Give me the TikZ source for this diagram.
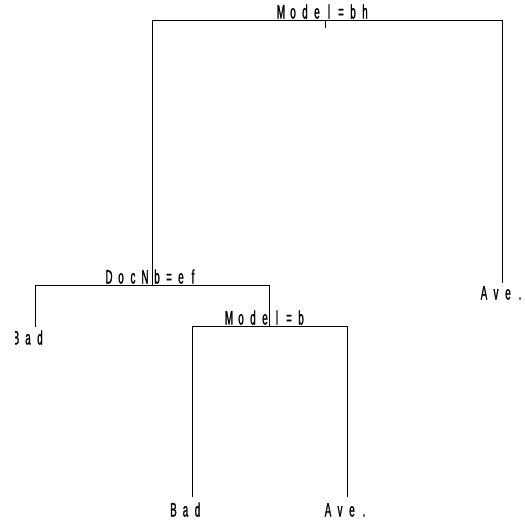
\documentclass[tikz,border=0pt]{standalone}
\usepackage{fontspec}
\newfontfamily\treefont[FakeStretch=0.5, FakeBold=1.2]{Liberation Sans}
% spread the characters of a label at a fixed pitch
\newcommand\spreadchars[1]{\spreadloop#1\relax}
\def\spreadloop#1{\ifx#1\relax\else\makebox[12pt]{#1}\expandafter\spreadloop\fi}
\tikzset{
  branch/.style={line width=0.8pt, black},
  lbl/.style={inner sep=0pt, anchor=base, font=\treefont\fontsize{19.5}{19.5}\selectfont},
}
\begin{document}
\begin{tikzpicture}[x=1pt, y=-1pt]
\useasboundingbox (0,0) rectangle (525,520);
% split points
\coordinate (root) at (325,20);
\coordinate (rootL) at (152,20);
\coordinate (rootR) at (502,20);
\coordinate (doc) at (152,285);
\coordinate (docL) at (35,285);
\coordinate (docR) at (269,285);
\coordinate (mod) at (269,326);
\coordinate (modL) at (192,326);
\coordinate (modR) at (347,326);
% leaf ends
\coordinate (leafA) at (502,283);
\coordinate (leafB) at (35,327);
\coordinate (leafC) at (192,497);
\coordinate (leafD) at (347,497);
% branches
\draw[branch] (rootL) -- (rootR);
\draw[branch] (root) -- ++(0,8);
\draw[branch] (rootL) -- (doc);
\draw[branch] (rootR) -- (leafA);
\draw[branch] (docL) -- (docR);
\draw[branch] (docL) -- (leafB);
\draw[branch] (docR) -- (mod);
\draw[branch] (modL) -- (modR);
\draw[branch] (modL) -- (leafC);
\draw[branch] (modR) -- (leafD);
% split labels
\node[lbl] (t1) at (323,18.5) {\spreadchars{Model=bh}};
\node[lbl] (t2) at (151,283.5) {\spreadchars{DocNb=ef}};
\node[lbl] (t3) at (265,324.5) {\spreadchars{Model=b}};
% leaf labels
\node[lbl] (l1) at (502,299.5) {\spreadchars{Ave.}};
\begin{scope}
  \clip (15,320) rectangle (80,360);
  \node[lbl] (l2) at (28,344.5) {\spreadchars{Bad}};
\end{scope}
\node[lbl] (l3) at (185.5,516.5) {\spreadchars{Bad}};
\node[lbl] (l4) at (346,516.5) {\spreadchars{Ave.}};
\end{tikzpicture}
\end{document}
